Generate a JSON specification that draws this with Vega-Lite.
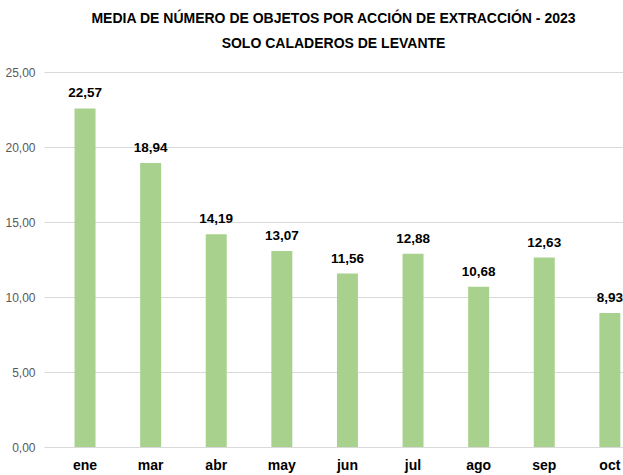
{
  "$schema": "https://vega.github.io/schema/vega-lite/v6.json",
  "width": 579,
  "height": 375,
  "autosize": "none",
  "padding": {"left": 44, "top": 72, "right": 0, "bottom": 28},
  "background": "white",
  "title": {
    "text": ["MEDIA DE NÚMERO DE OBJETOS POR ACCIÓN DE EXTRACCIÓN - 2023", "SOLO CALADEROS DE LEVANTE"],
    "font": "Liberation Sans, Arial, sans-serif",
    "fontSize": 14,
    "fontWeight": "bold",
    "color": "#000000",
    "lineHeight": 25,
    "anchor": "middle",
    "offset": 15
  },
  "data": {
    "values": [
      {"mes": "ene", "valor": 22.57},
      {"mes": "mar", "valor": 18.94},
      {"mes": "abr", "valor": 14.19},
      {"mes": "may", "valor": 13.07},
      {"mes": "jun", "valor": 11.56},
      {"mes": "jul", "valor": 12.88},
      {"mes": "ago", "valor": 10.68},
      {"mes": "sep", "valor": 12.63},
      {"mes": "oct", "valor": 8.93}
    ]
  },
  "encoding": {
    "x": {
      "field": "mes",
      "type": "nominal",
      "sort": null,
      "scale": {"paddingInner": 0.68, "paddingOuter": 0.253, "align": 0.92},
      "axis": {
        "title": null,
        "labelAngle": 0,
        "labelFont": "Liberation Sans, Arial, sans-serif",
        "labelFontSize": 14,
        "labelFontWeight": "bold",
        "labelColor": "#000000",
        "labelPadding": 11,
        "ticks": false,
        "domain": false
      }
    },
    "y": {
      "field": "valor",
      "type": "quantitative",
      "scale": {"domain": [0, 25], "nice": false},
      "axis": {
        "title": null,
        "values": [0, 5, 10, 15, 20, 25],
        "labelExpr": "replace(format(datum.value, '.2f'), '.', ',')",
        "labelFont": "Liberation Sans, Arial, sans-serif",
        "labelFontSize": 12,
        "labelColor": "#595959",
        "labelPadding": 9,
        "ticks": false,
        "domain": false,
        "grid": true,
        "gridColor": "#d9d9d9",
        "gridWidth": 1
      }
    }
  },
  "layer": [
    {
      "mark": {"type": "bar", "color": "#a9d18e"}
    },
    {
      "mark": {
        "type": "text",
        "dy": -8,
        "baseline": "bottom",
        "font": "Liberation Sans, Arial, sans-serif",
        "fontSize": 13.5,
        "fontWeight": "bold",
        "color": "#000000"
      },
      "encoding": {
        "text": {"field": "valor", "type": "quantitative", "format": ".2f"}
      }
    }
  ],
  "config": {
    "view": {"stroke": null},
    "locale": {"number": {"decimal": ",", "thousands": ".", "grouping": [3], "currency": ["", " €"]}}
  }
}
